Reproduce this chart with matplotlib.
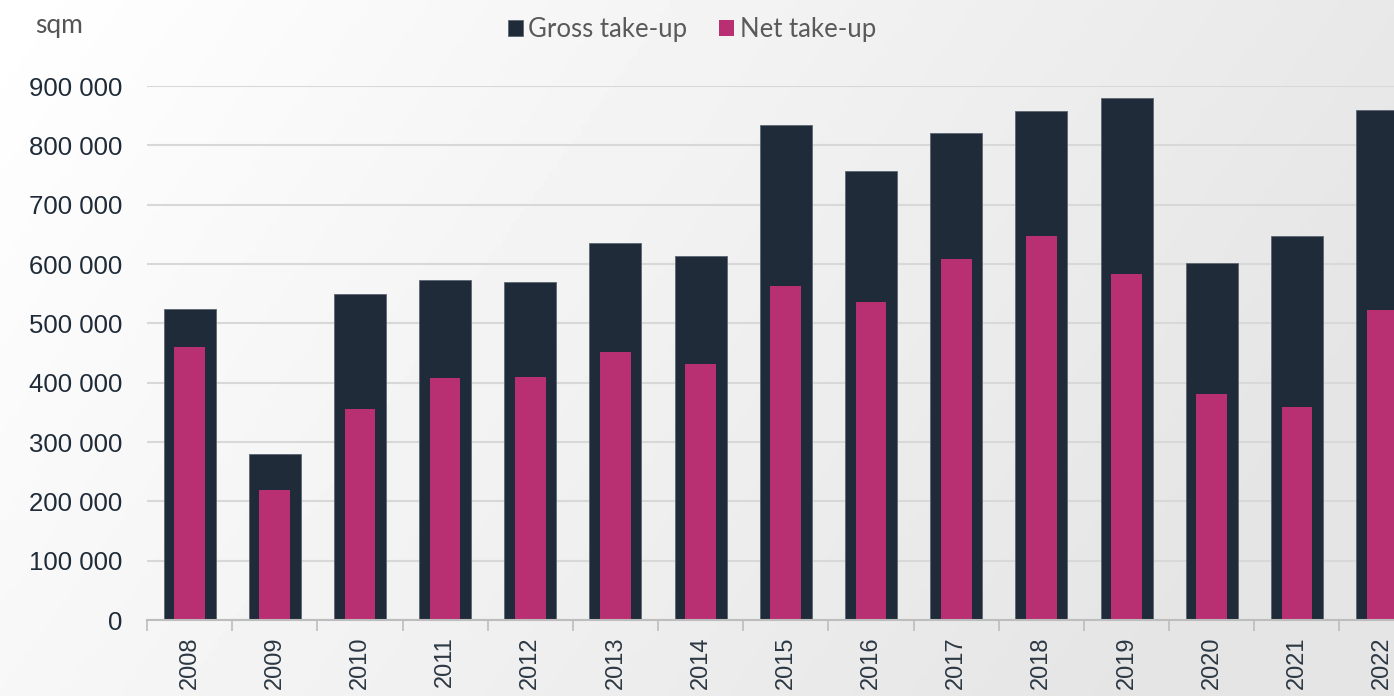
import numpy as np
import matplotlib.pyplot as plt

years = ['2008', '2009', '2010', '2011', '2012', '2013', '2014', '2015',
         '2016', '2017', '2018', '2019', '2020', '2021', '2022']
gross = [524000, 280000, 549000, 573000, 570000, 635000, 613000, 834000,
         757000, 821000, 858000, 880000, 602000, 647000, 860000]
net = [460000, 219000, 356000, 408000, 410000, 452000, 431000, 563000,
       536000, 608000, 647000, 583000, 381000, 359000, 522000]
yticks = [0, 100000, 200000, 300000, 400000, 500000, 600000, 700000, 800000, 900000]

navy = '#1f2b38'
magenta = '#b83071'

fig = plt.figure(figsize=(13.94, 6.96), dpi=100)

# background gradient
bg = fig.add_axes([0, 0, 1, 1], zorder=-10)
gx, gy = np.meshgrid(np.linspace(0, 1, 300), np.linspace(0, 1, 150))
shade = 1.0 - 0.105 * np.clip(0.85 * gx + 0.3 * gy, 0, 1)
bg.imshow(shade, cmap='gray', vmin=0, vmax=1, aspect='auto', extent=[0, 1, 0, 1], origin='upper')
bg.axis('off')

ax = fig.add_axes([147 / 1394, 1 - 620 / 696, 1 - 147 / 1394, (620 - 86) / 696])
ax.patch.set_alpha(0)

x = np.arange(len(years))
ax.bar(x, gross, width=0.61, color=navy, edgecolor='#5c6772', linewidth=0.6, zorder=3,
       label='Gross take-up')
ax.bar(x, net, width=0.36, color=magenta, zorder=4, label='Net take-up')

ax.set_yticks(yticks)
ax.set_yticklabels([f'{v:,}'.replace(',', ' ') for v in yticks],
                   fontfamily='Liberation Sans', fontsize=18.5, color=navy)
ax.set_xticks(x)
ax.set_xticklabels(years, rotation=90, fontfamily='Liberation Sans', fontsize=17, color='#2b3743')
ax.set_xticks(np.arange(-0.5, len(years), 1), minor=True)
ax.set_xlim(-0.5, 14.14)
ax.set_ylim(0, 900000)
ax.tick_params(axis='x', which='major', length=0, pad=12)
ax.tick_params(axis='x', which='minor', length=8, color='#bdbdbd', width=1.2)
ax.tick_params(axis='y', length=0, pad=18)

ax.grid(axis='y', color='#d8d8d8', linewidth=1.5, zorder=0)
for s in ['top', 'right', 'left']:
    ax.spines[s].set_visible(False)
ax.spines['bottom'].set_color('#bdbdbd')
ax.spines['bottom'].set_linewidth(1.5)
ax.spines['bottom'].set_zorder(5)

fig.text(35 / 1394, 1 - 25 / 696, 'sqm', fontfamily='Lato', fontsize=19, color='#555555',
         va='center', ha='left')

fig.legend(loc='center', bbox_to_anchor=(692 / 1394, 1 - 30 / 696), ncol=2, frameon=False,
           prop={'family': 'Lato', 'size': 18.5}, labelcolor='#5a5a5a',
           handlelength=0.58, handleheight=0.58, handletextpad=0.2, columnspacing=1.25)

fig.savefig('out.png', dpi=100)
